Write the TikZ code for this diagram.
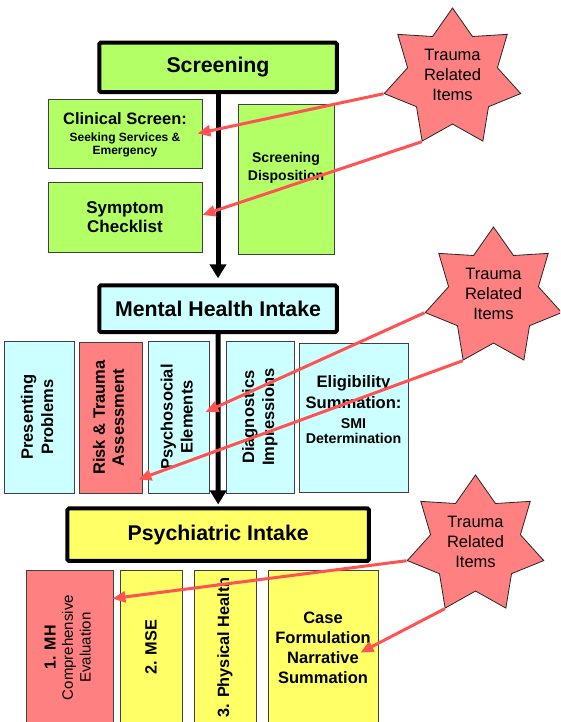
\documentclass[tikz,border=0pt]{standalone}
\usepackage{fontspec}
\setmainfont{Liberation Sans}
\usepackage{graphicx}
\usetikzlibrary{shapes.geometric,arrows.meta,calc}
\definecolor{gfill}{RGB}{179,255,102}
\definecolor{cfill}{RGB}{204,255,255}
\definecolor{yfill}{RGB}{255,255,102}
\definecolor{pfill}{RGB}{255,128,128}
\definecolor{tred}{RGB}{255,82,82}
\begin{document}
\begin{tikzpicture}[x=1pt,y=-1pt,
  mainbox/.style={draw=black, line width=4pt, rounded corners=1.5pt, inner sep=0pt,
    font=\bfseries\fontsize{21.3}{25}\selectfont},
  subbox/.style={draw=black!75, line width=0.9pt, inner sep=0pt, align=center,
    font=\bfseries\fontsize{16.5}{20}\selectfont},
  plaintext/.style={inner sep=0pt, align=center},
  starnode/.style={star, star points=7, star point ratio=1.52, minimum size=140pt,
    inner sep=0pt, draw=black!85, line width=0.8pt, fill=pfill},
  startext/.style={inner sep=0pt, align=center, font=\fontsize{16.5}{20}\selectfont},
  flow/.style={draw=black, line width=5pt, -{Triangle[length=14pt,width=16pt]}},
  trauma/.style={draw=tred, line width=3pt, -{Triangle[length=13pt,width=11pt]}}
]
\useasboundingbox (0,0) rectangle (560,722);
\clip (0,0) rectangle (560,722);

% ---- Screening level
\node[mainbox, fill=gfill, minimum width=237.5pt, minimum height=49.5pt] (scr) at (218,67.3) {Screening};
\node[subbox, fill=gfill, minimum width=154pt, minimum height=69pt] (cs) at (125,133.5) {};
\node[plaintext, font=\bfseries\fontsize{16.5}{13}\selectfont] (cst) at (125,135)
  {Clinical Screen:\\[4pt]{\fontsize{12}{13}\selectfont Seeking Services \&}\\{\fontsize{12}{13}\selectfont Emergency}};
\node[subbox, fill=gfill, minimum width=154pt, minimum height=70pt,
  font=\bfseries\fontsize{17}{19}\selectfont] (sc) at (125,217) {Symptom\\Checklist};
\node[subbox, fill=gfill, minimum width=96pt, minimum height=150pt] (sd) at (286,179) {};
\node[plaintext, font=\bfseries\fontsize{14}{18}\selectfont] (sdt) at (286,168) {Screening\\Disposition};

% ---- Mental health intake level
\node[mainbox, fill=cfill, minimum width=237.5pt, minimum height=46.7pt] (mhi) at (218,308.7) {Mental Health Intake};
\node[subbox, fill=cfill, minimum width=70pt, minimum height=152pt] (pp) at (39,417)
  {\rotatebox{90}{\begin{tabular}{@{}c@{}}Presenting\\Problems\end{tabular}}};
\node[subbox, fill=pfill, minimum width=63pt, minimum height=151pt] (rt) at (110.5,417.5)
  {\rotatebox{90}{\fontsize{16.5}{19}\selectfont\begin{tabular}{@{}c@{}}Risk \& Trauma\\Assessment\end{tabular}}};
\node[subbox, fill=cfill, minimum width=61pt, minimum height=152pt] (ps) at (178.5,417)
  {\rotatebox{90}{\begin{tabular}{@{}c@{}}Psychosocial\\Elements\end{tabular}}};
\node[subbox, fill=cfill, minimum width=68pt, minimum height=152pt] (di) at (260,417)
  {\rotatebox{90}{\begin{tabular}{@{}c@{}}Diagnostics\\Impressions\end{tabular}}};
\node[subbox, fill=cfill, minimum width=109pt, minimum height=149pt] (el) at (353.5,417.5) {};
\node[plaintext, font=\bfseries\fontsize{16.6}{15}\selectfont] (elt) at (353.5,409.5)
  {Eligibility\\[5pt]Summation:\\[5pt]{\fontsize{14.2}{15}\selectfont SMI}\\{\fontsize{14.2}{15}\selectfont Determination}};

% ---- Psychiatric intake level
\node[mainbox, fill=yfill, minimum width=301.5pt, minimum height=52.5pt] (psy) at (218.2,534.7) {Psychiatric Intake};
\node[subbox, fill=pfill, minimum width=87pt, minimum height=155pt] (mh) at (69.5,647.5)
  {\rotatebox{90}{\fontsize{15}{17.5}\selectfont\begin{tabular}{@{}c@{}}{\bfseries\fontsize{16}{17.5}\selectfont 1. MH}\\
   \mdseries Comprehensive\\ \mdseries Evaluation\end{tabular}}};
\node[subbox, fill=yfill, minimum width=62pt, minimum height=155pt, font=\bfseries\fontsize{16.3}{20}\selectfont] (mse) at (151,647.5)
  {\rotatebox{90}{2. MSE}};
\node[subbox, fill=yfill, minimum width=62pt, minimum height=155pt, font=\bfseries\fontsize{16.3}{20}\selectfont] (ph) at (225,647.5)
  {\rotatebox{90}{3. Physical Health}};
\node[subbox, fill=yfill, minimum width=110pt, minimum height=155pt] (cf) at (323,647.5)
  {Case\\Formulation\\Narrative\\Summation};

% ---- flow arrows
\draw[flow] (scr.south) -- ([yshift=5pt]mhi.north);
\draw[flow] (mhi.south) -- ([yshift=2pt]psy.north);

% ---- trauma stars
\node[starnode] (s1) at (452.5,78) {};
\node[startext] (t1) at (452.5,74.5) {Trauma\\Related\\Items};
\node[starnode] (s2) at (493.5,297) {};
\node[startext] (t2) at (493.5,293.5) {Trauma\\Related\\Items};
\node[starnode] (s3) at (475.5,545) {};
\node[startext] (t3) at (475.5,541.5) {Trauma\\Related\\Items};

% ---- trauma arrows
\draw[trauma] (s1.outer point 3) -- ([xshift=-5pt]cs.east);
\draw[trauma] (s1.outer point 4) -- ([yshift=2pt]sc.east);
\draw[trauma] (s2.outer point 3) -- ([xshift=-4pt,yshift=5pt]ps.east);
\draw[trauma] (s2.outer point 4) -- ([xshift=-4pt,yshift=14pt]rt.south east);
\draw[trauma] (s3.outer point 3) -- ([xshift=-1pt,yshift=-29pt]mh.north east);
\draw[trauma] (s3.outer point 4) -- ([xshift=-18pt,yshift=-83pt]cf.north east);
\end{tikzpicture}
\end{document}
